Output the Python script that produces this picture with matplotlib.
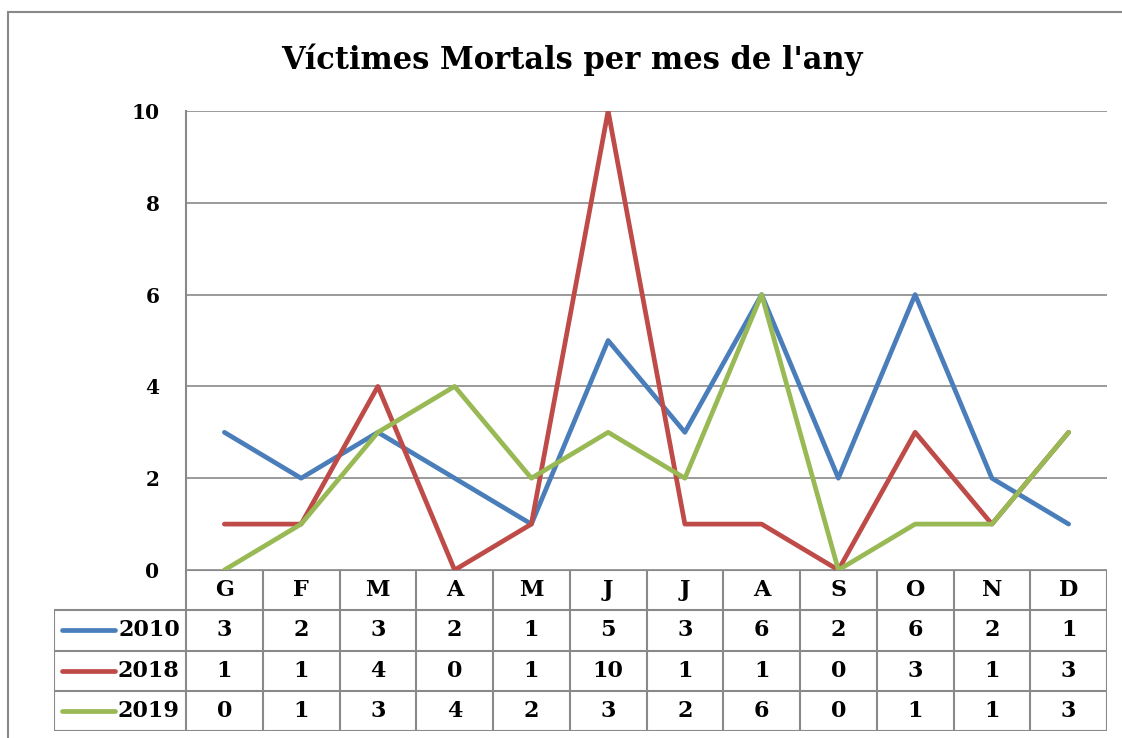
import matplotlib
matplotlib.use("Agg")
import matplotlib.pyplot as plt
from matplotlib.patches import Rectangle

months = ["G", "F", "M", "A", "M", "J", "J", "A", "S", "O", "N", "D"]
years = ["2010", "2018", "2019"]
v2010 = [3, 2, 3, 2, 1, 5, 3, 6, 2, 6, 2, 1]
v2018 = [1, 1, 4, 0, 1, 10, 1, 1, 0, 3, 1, 3]
v2019 = [0, 1, 3, 4, 2, 3, 2, 6, 0, 1, 1, 3]
series = [v2010, v2018, v2019]
colors = ["#4A7EBB", "#BE4B48", "#98B954"]

W, H = 1122, 738
plt.rcParams['font.family'] = ['DejaVu Serif']
plt.rcParams['font.weight'] = 'bold'
fig = plt.figure(figsize=(W / 100, H / 100), dpi=100)
grid_c = "#898989"

# outer chart frame
fig.patches.append(Rectangle((8 / W, -0.1), 1.2, 1 - 12 / H + 0.1, transform=fig.transFigure,
                             fill=False, edgecolor=grid_c, lw=1.5))

# plot area
ax = fig.add_axes([186 / W, (H - 570) / H, 921 / W, 459 / H])
x = list(range(len(months)))
for vals, c, y in zip(series, colors, years):
    ax.plot(x, vals, color=c, lw=3.4, label=y, solid_capstyle='round', zorder=3)
ax.set_xlim(-0.5, 11.5)
ax.set_ylim(0, 10)
ax.set_yticks(range(0, 11, 2))
ax.set_xticks([])
ax.grid(axis='y', color=grid_c, lw=1.2)
for s in ["top", "right", "bottom"]:
    ax.spines[s].set_visible(False)
ax.spines["left"].set_color(grid_c)
ax.spines["left"].set_linewidth(1.5)
ax.tick_params(axis='y', length=0, pad=19, labelsize=14.5)
ax.set_axisbelow(True)

fig.text(572 / W, 1 - 60 / H, "Víctimes Mortals per mes de l'any", ha='center', va='center',
         fontsize=22, fontweight='bold')

# data table below plot
lab_w = (186 - 54) / (921 / 12)
tax = fig.add_axes([54 / W, (H - 731) / H, (1107 - 54) / W, 161 / H])
tax.set_xlim(-0.5 - lab_w, 11.5)
tax.set_ylim(4, 0)
tax.axis('off')
lk = dict(color=grid_c, lw=1.5, solid_capstyle='butt')
tax.plot([-0.5, 11.5], [0, 0], **lk)
for r in range(1, 5):
    tax.plot([-0.5 - lab_w, 11.5], [r, r], **lk)
for i in range(13):
    tax.plot([i - 0.5, i - 0.5], [0, 4], **lk)
tax.plot([-0.5 - lab_w] * 2, [1, 4], **lk)
for i, m in enumerate(months):
    tax.text(i, 0.5, m, ha='center', va='center', fontsize=16, fontweight='bold')
for r, (vals, c, y) in enumerate(zip(series, colors, years), start=1):
    for i, v in enumerate(vals):
        tax.text(i, r + 0.5, str(v), ha='center', va='center', fontsize=16, fontweight='bold')
    tax.plot([-0.5 - lab_w + 0.1, -0.5 - lab_w + 0.8], [r + 0.5, r + 0.5], color=c, lw=3.4,
             solid_capstyle='round')
    tax.text(-0.58, r + 0.5, y, ha='right', va='center', fontsize=16, fontweight='bold')

fig.savefig("out.png", dpi=100)
